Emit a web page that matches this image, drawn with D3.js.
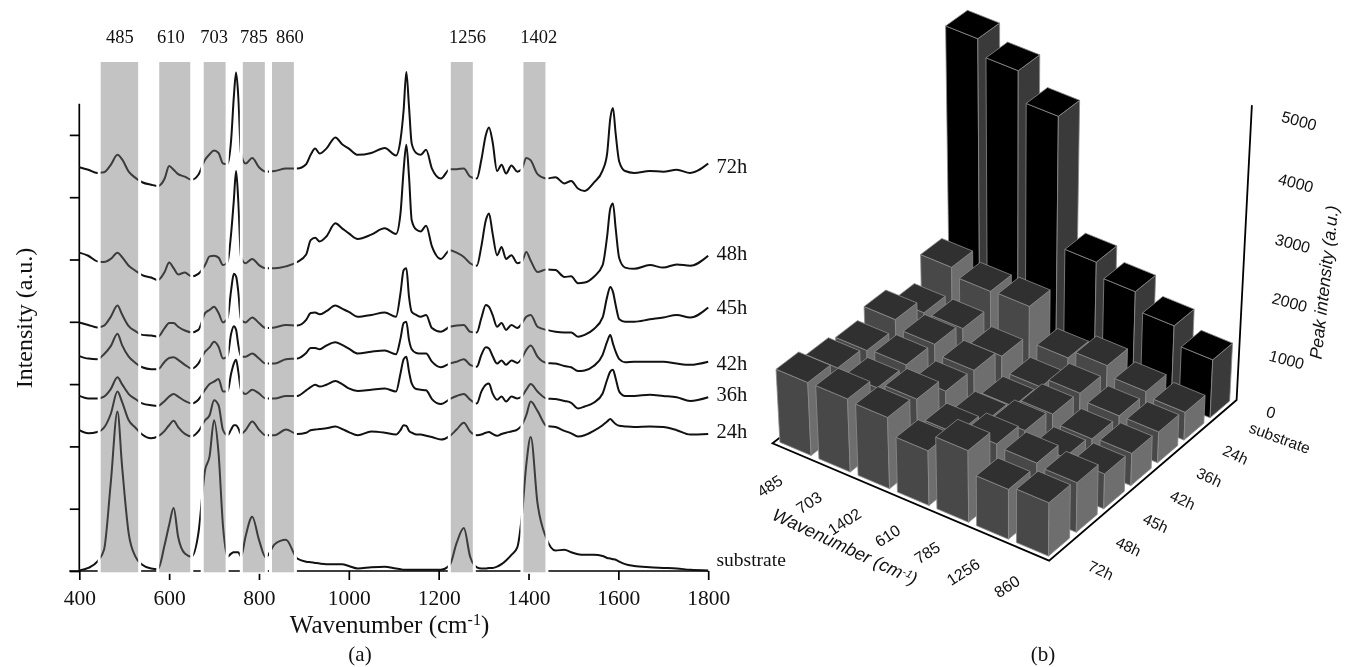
<!DOCTYPE html>
<html><head><meta charset="utf-8">
<script src="https://cdn.jsdelivr.net/npm/d3@7"></script>
<style>html,body{margin:0;padding:0;background:#fff}svg{display:block;filter:blur(.35px)}
.serif{font-family:"Liberation Serif","Times New Roman",serif;fill:#111}
.sans{font-family:"Liberation Sans",Arial,sans-serif;fill:#111}</style>
</head><body><svg id="c" width="1345" height="667"></svg>
<script>
const wavenumbers=[400,420,440,455,470,485,495,510,525,540,
560,575,590,600,610,620,635,650,665,680,
690,700,710,720,730,738,744,749,754,760,
770,785,800,815,835,860,885,905,915,925,
935,950,970,985,1000,1020,1050,1080,1105,1115,
1122,1128,1134,1140,1150,1160,1172,1185,1205,1225,
1240,1256,1270,1285,1295,1305,1312,1320,1330,1340,
1350,1362,1375,1385,1395,1405,1420,1440,1460,1480,
1495,1510,1525,1545,1565,1575,1582,1588,1594,1602,
1615,1635,1670,1700,1730,1760,1800];
const spec72h=[648,644,639,640,652,668,661,641,631,624,
620,618,630,650,644,637,633,628,636,660,
669,675,671,654,653,692,761,800,761,670,
654,663,648,641,642,646,646,653,668,678,
670,678,696,685,678,668,671,679,667,692,
740,801,745,686,671,668,676,646,630,645,
645,646,633,630,660,700,712,689,642,652,
638,651,641,645,663,659,637,630,632,622,
626,614,610,623,643,670,726,743,702,657,
642,639,642,641,644,639,654];
const spec48h=[511,506,497,496,501,511,504,490,482,475,
471,467,480,495,486,476,479,473,477,491,
505,506,503,491,496,542,595,642,593,504,
494,501,491,486,486,489,496,508,531,535,
529,537,558,550,542,533,540,550,541,574,
644,684,633,563,548,545,554,521,501,515,
511,504,494,490,521,563,574,542,507,520,
501,507,494,496,512,498,480,484,483,472,
473,462,463,472,491,537,582,590,550,502,
487,485,491,487,492,490,506];
const spec45h=[399,395,391,394,408,426,412,393,385,379,
378,376,390,398,398,392,386,383,387,414,
419,424,414,399,406,451,477,473,448,403,
399,407,398,390,391,395,394,403,414,415,
412,417,426,421,416,408,411,415,408,446,
483,486,440,416,411,408,411,390,384,392,
394,395,384,383,406,427,424,411,392,398,
387,395,390,397,408,411,392,387,384,383,
383,376,379,388,407,440,456,448,427,404,
400,400,404,407,411,407,423];
const spec42h=[345,341,340,348,361,381,363,344,334,327,
324,324,336,342,343,339,331,325,333,352,
359,368,360,341,345,381,393,387,363,344,
344,349,341,333,333,340,341,350,358,358,
356,362,367,363,357,349,352,354,348,373,
398,400,371,356,350,349,349,336,327,333,
336,340,331,328,347,359,357,345,333,338,
331,338,334,341,355,362,344,334,333,329,
327,321,322,329,347,368,379,365,352,340,
335,336,336,336,333,331,336];
const spec36h=[281,277,277,280,292,311,300,284,276,269,
266,265,273,280,284,280,273,269,275,291,
300,304,308,288,288,317,333,339,320,291,
284,291,285,277,277,281,281,290,295,299,
296,299,305,300,293,289,291,293,288,317,
340,344,320,301,292,291,290,276,268,276,
281,284,275,269,288,299,301,285,275,280,
272,280,277,280,291,300,288,277,276,273,
270,261,264,270,285,307,320,323,309,288,
281,281,283,281,279,273,279];
const spec24h=[226,221,223,230,252,288,272,242,230,219,
213,216,225,234,241,231,220,216,224,242,
250,274,266,226,218,227,234,234,229,220,
226,240,227,218,218,227,220,222,226,227,
228,229,232,228,223,218,224,222,219,226,
234,233,225,222,219,219,217,215,211,217,
227,238,224,218,219,222,223,220,217,220,
222,224,227,234,250,272,257,233,231,225,
221,216,218,225,234,240,244,240,236,233,
232,231,232,231,226,219,220];
const specSubstrate=[1,5,15,34,141,256,170,60,23,10,
4,3,42,74,101,55,28,23,60,162,
184,242,189,71,23,28,30,30,30,23,
55,87,50,22,43,50,20,15,14,13,
12,11,11,11,8,4,6,7,4,3,
2,2,2,2,2,2,2,2,2,10,
45,69,23,6,4,4,5,5,7,11,
17,26,38,87,170,215,109,52,33,34,
30,27,26,26,24,21,20,19,18,15,
11,8,6,5,4,2,1];
const seriesNames=["72h","48h","45h","42h","36h","24h","substrate"];
const seriesLabelValues=[650,510,423,334,284,225,18];
const bandLow=[447.6,578,677,764,829,1227,1388.7];
const bandHigh=[531,647,725.7,813,877.7,1276,1437.6];
const peakNames=["485","610","703","785","860","1256","1402"];
const peakLabelAt=[490.5,604,700,788.5,869,1264,1423];
const xTicks=[400,600,800,1000,1200,1400,1600,1800];
const yTicks=[0,100,200,300,400,500,600,700];

// panel (b)
const barWavenumbers=["485","703","1402","610","785","1256","860"];
const barRows=["72h","48h","45h","42h","36h","24h","substrate"];
const bars72h=[1273,1279,1249,964,1261,882,946];
const bars48h=[1133,1075,1168,853,970,929,882];
const bars45h=[1046,1081,911,664,800,617,623];
const bars42h=[1197,1051,882,534,688,540,576];
const bars36h=[935,941,740,481,658,546,552];
const bars24h=[1349,1209,1226,605,753,581,499];
const barsSubstrate=[4778,4526,4052,1892,1661,1348,1034];
const zTicks=[0,1000,2000,3000,4000,5000];

const svg=d3.select("#c");
const x=d3.scaleLinear().domain([400,1800]).range([79.3,708.2]);
const y=d3.scaleLinear().domain([0,750]).range([571,571-467.25]);
const specs=[spec72h,spec48h,spec45h,spec42h,spec36h,spec24h,specSubstrate];
const line=d3.line().x(d=>x(d[0])).y(d=>y(d[1])).curve(d3.curveMonotoneX);
const specPaths=specs.map(s=>line(s.map((v,i)=>[wavenumbers[i],v])));
const bandH=[62,572.3];

// axes
const ax=svg.append("g").attr("transform",`translate(0,${y(0)})`)
 .call(d3.axisBottom(x).tickValues(xTicks).tickSize(9).tickPadding(10).tickFormat(d3.format("d")));
ax.selectAll("path,line").attr("stroke","#000").attr("stroke-width",1.7);
ax.selectAll("text").attr("class","serif").style("font-size","21.5px");
ax.select(".domain").attr("d",`M${x(400)-10},0H${x(1800)}`);
const ay=svg.append("g").attr("transform",`translate(${x(400)},0)`)
 .call(d3.axisLeft(y).tickValues(yTicks).tickSize(9.5).tickFormat(""));
ay.selectAll("path,line").attr("stroke","#000").attr("stroke-width",1.7);
ay.select(".domain").attr("d",`M0,${y(750)}V${y(0)}`);

// spectra
const gL=svg.append("g").attr("fill","none").attr("stroke","#111").attr("stroke-width",2);
specPaths.forEach(d=>gL.append("path").attr("d",d));

// white gaps and grey bands
bandLow.forEach((lo,i)=>{
  svg.append("rect").attr("x",x(lo)-3).attr("y",bandH[0]).attr("width",x(bandHigh[i])-x(lo)+6)
    .attr("height",bandH[1]-bandH[0]+1.5).attr("fill","#fff");
});
const clip=svg.append("clipPath").attr("id","bandClip");
bandLow.forEach((lo,i)=>{
  const r=[x(lo),bandH[0],x(bandHigh[i])-x(lo),bandH[1]-bandH[0]];
  svg.append("rect").attr("x",r[0]).attr("y",r[1]).attr("width",r[2]).attr("height",r[3]).attr("fill","#c3c3c3");
  clip.append("rect").attr("x",r[0]).attr("y",r[1]).attr("width",r[2]).attr("height",r[3]);
});
const gB=svg.append("g").attr("clip-path","url(#bandClip)").attr("fill","none").attr("stroke","#3c3c3c").attr("stroke-width",2);
specPaths.forEach(d=>gB.append("path").attr("d",d));

// text panel a
peakNames.forEach((n,i)=>svg.append("text").attr("class","serif").attr("x",x(peakLabelAt[i])).attr("y",43)
  .attr("text-anchor","middle").style("font-size","18.5px").text(n));
seriesNames.forEach((n,i)=>svg.append("text").attr("class","serif").attr("x",716.5).attr("y",y(seriesLabelValues[i]))
  .attr("dy","0.33em").style("font-size",n=="substrate"?"19.5px":"20.5px").text(n));
const xt=svg.append("text").attr("class","serif").attr("x",389.5).attr("y",633).attr("text-anchor","middle").style("font-size","25px");
xt.append("tspan").text("Wavenumber (cm");
xt.append("tspan").attr("dy",-8).style("font-size","16px").text("-1");
xt.append("tspan").attr("dy",8).text(")");
svg.append("text").attr("class","serif").attr("transform","translate(32,318) rotate(-90)").attr("text-anchor","middle").style("font-size","24px").text("Intensity (a.u.)");
svg.append("text").attr("class","serif").attr("x",360).attr("y",661).attr("text-anchor","middle").style("font-size","21px").text("(a)");
svg.append("text").attr("class","serif").attr("x",1043).attr("y",661).attr("text-anchor","middle").style("font-size","21px").text("(b)");

// panel b: pinhole projection from floor corners + vertical vanishing point
const L=[772.5,443.3],F=[1049.1,560.7],R=[1236.6,400],B=[969.5,290],V=[1010,4771];
const sx=L[0]-F[0]+R[0]-B[0],sy=L[1]-F[1]+R[1]-B[1];
const dx1=F[0]-R[0],dx2=B[0]-R[0],dy1=F[1]-R[1],dy2=B[1]-R[1];
const det=dx1*dy2-dx2*dy1;
const g=(sx*dy2-dx2*sy)/det,h=(dx1*sy-sx*dy1)/det;
const ha=F[0]-L[0]+g*F[0],hb=B[0]-L[0]+h*B[0],hc=L[0],hd=F[1]-L[1]+g*F[1],he=B[1]-L[1]+h*B[1],hf=L[1];
const zS=d3.scaleLinear().domain([0,5000]).range([0,-0.0632*(1+g+h)]);
function proj(u,v,z){const k=zS(z),w=g*u+h*v+1+k;
  return [(ha*u+hb*v+hc+k*V[0])/w,(hd*u+he*v+hf+k*V[1])/w];}
const xB=d3.scaleBand().domain(barWavenumbers).range([0,1]).paddingInner(.2).paddingOuter(.1);
const yB=d3.scaleBand().domain(barRows).range([0,1]).paddingInner(.24).paddingOuter(.12);
const rowsData=[bars72h,bars48h,bars45h,bars42h,bars36h,bars24h,barsSubstrate];
const gFloor=svg.append("g");
const lineP=d3.line();
gFloor.append("path").attr("fill","none").attr("stroke","#000").attr("stroke-width",1.8).attr("stroke-linejoin","miter")
 .attr("d",lineP([proj(0,.035,0),proj(0,0,0),proj(1,0,0),proj(1,1,0),proj(1,1,5000)]));
const gBars=svg.append("g").attr("stroke","#8c8c8c").attr("stroke-width",.8).attr("stroke-linejoin","round");
const poly=(pts,fill)=>gBars.append("path").attr("d",lineP(pts)+"Z").attr("fill",fill);
for(let j=barRows.length-1;j>=0;j--){
  const black=barRows[j]=="substrate";
  barWavenumbers.forEach((wn,i)=>{
    const u0=xB(wn),u1=u0+xB.bandwidth(),v0=yB(barRows[j]),v1=v0+yB.bandwidth(),z=rowsData[j][i];
    poly([proj(u0,v0,0),proj(u1,v0,0),proj(u1,v0,z),proj(u0,v0,z)],black?"#000":"#484848");
    poly([proj(u1,v0,0),proj(u1,v1,0),proj(u1,v1,z),proj(u1,v0,z)],black?"#3a3a3a":"#6e6e6e");
    poly([proj(u0,v0,z),proj(u1,v0,z),proj(u1,v1,z),proj(u0,v1,z)],black?"#000":"#303030");
  });
}
// labels panel b
zTicks.forEach(t=>{const p=proj(1,1,t);
  svg.append("text").attr("class","sans").attr("transform",`translate(${p[0]+30},${p[1]+11}) rotate(15)`)
    .attr("dy","0.35em").style("font-size","16px").text(t);});
barRows.forEach(r=>{const p=proj(1,yB(r)+yB.bandwidth()/2,0);
  svg.append("text").attr("class","sans").attr("transform",`translate(${p[0]+26},${p[1]+16}) rotate(${r=="substrate"?20:25})`)
    .attr("dy","0.35em").style("font-size","15.5px").text(r);});
barWavenumbers.forEach(w=>{const p=proj(xB(w)+xB.bandwidth()/2,0,0);
  svg.append("text").attr("class","sans").attr("transform",`translate(${p[0]-11},${p[1]+27}) rotate(-33)`)
    .attr("text-anchor","end").attr("dy","0.35em").style("font-size","16px").text(w);});
const wt=svg.append("text").attr("class","sans").attr("transform","translate(842.4,552.3) rotate(25)").attr("text-anchor","middle").style("font-size","18px").style("font-style","italic");
wt.append("tspan").text("Wavenumber (cm");
wt.append("tspan").attr("dy",-5).style("font-size","11px").text("-1");
wt.append("tspan").attr("dy",5).text(")");
svg.append("text").attr("class","sans").attr("transform","translate(1330,283) rotate(-83.7)").attr("text-anchor","middle").style("font-size","17.5px").style("font-style","italic").text("Peak intensity (a.u.)");
</script></body></html>
